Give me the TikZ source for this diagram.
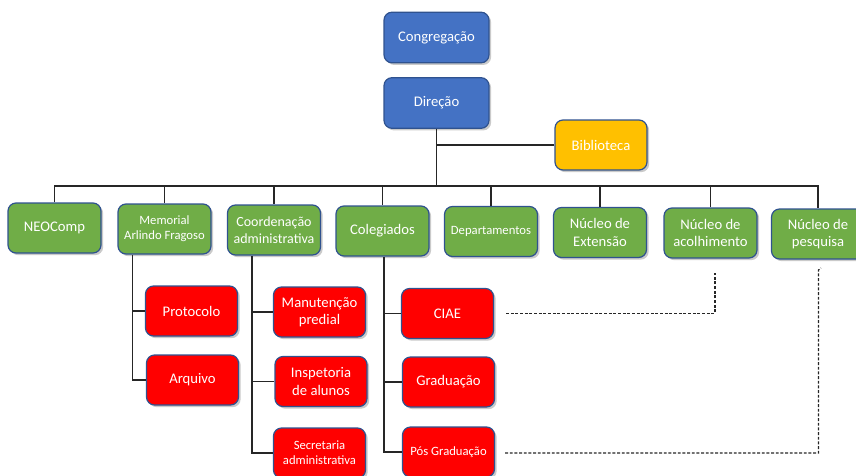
\documentclass[tikz,border=0pt]{standalone}
\usepackage{fontspec}
\setmainfont{Carlito}
\usetikzlibrary{shadows,calc}
\definecolor{bblue}{HTML}{4472C4}
\definecolor{bgreen}{HTML}{70AD47}
\definecolor{bred}{HTML}{FF0000}
\definecolor{byellow}{HTML}{FFC000}
\definecolor{bedge}{HTML}{2F528F}
\definecolor{lnk}{HTML}{262626}
\tikzset{
  box/.style={draw=bedge, line width=0.9pt, rounded corners=6pt, text=white,
    align=center, inner sep=1pt, font=\fontsize{11}{13}\selectfont,
    drop shadow={shadow xshift=1.6pt, shadow yshift=-1.6pt, opacity=0.35, fill=black!60}},
  bluebox/.style={box, fill=bblue, minimum width=78.75pt, minimum height=38pt},
  yellowbox/.style={box, fill=byellow, minimum width=69pt, minimum height=37.5pt},
  greenbox/.style={box, fill=bgreen, minimum width=69.75pt, minimum height=37.5pt},
  redbox/.style={box, fill=bred, minimum width=69pt, minimum height=37.5pt},
  small/.style={font=\fontsize{9.5}{11}\selectfont},
  mid/.style={font=\fontsize{10.5}{12.5}\selectfont},
  conn/.style={draw=lnk, line width=0.9pt},
  dconn/.style={draw=lnk, line width=0.9pt, dash pattern=on 2.2pt off 1.3pt},
}
\begin{document}
\begin{tikzpicture}[x=0.75pt,y=-0.75pt]
\useasboundingbox (0,0) rectangle (856,475);
% nodes
\node[bluebox] (cong) at (436.5,37.5) {Congregação};
\node[bluebox] (dir) at (436.5,103) {Direção};
\node[yellowbox] (bib) at (601,145) {Biblioteca};
\node[greenbox] (neo) at (54.5,228) {NEOComp};
\node[greenbox, small] (mem) at (164.5,229) {Memorial\\Arlindo Fragoso};
\node[greenbox, mid] (coord) at (274,230) {Coordenação\\administrativa};
\node[greenbox] (coleg) at (382.5,231) {Colegiados};
\node[greenbox, small] (dep) at (491,231.5) {Departamentos};
\node[greenbox] (ext) at (600,232.5) {Núcleo de\\Extensão};
\node[greenbox] (acol) at (710.5,233) {Núcleo de\\acolhimento};
\node[greenbox] (pesq) at (818,234) {Núcleo de\\pesquisa};
\node[redbox] (prot) at (191.5,311) {Protocolo};
\node[redbox] (arq) at (192.5,380) {Arquivo};
\node[redbox] (man) at (319.5,312) {Manutenção\\predial};
\node[redbox] (insp) at (321,381.5) {Inspetoria\\de alunos};
\node[redbox, small] (sec) at (319.5,453) {Secretaria\\administrativa};
\node[redbox] (ciae) at (447.5,313.5) {CIAE};
\node[redbox] (grad) at (448.5,382) {Graduação};
\node[redbox, small] (pos) at (448.5,452) {Pós Graduação};
% bus
\coordinate (bus) at (436.5,186);
\draw[conn] (dir.south) -- (dir.south |- bus);
\draw[conn] (bib.west) -- (bib.west -| dir.south);
\draw[conn] (neo.north) -- (neo.north |- bus) -- (pesq.north |- bus) -- (pesq.north);
\foreach \n in {mem,coord,coleg,dep,ext,acol}
  \draw[conn] (\n.north) -- (\n.north |- bus);
% sub branches
\coordinate (mv) at ($(mem.south west)+(15,0)$);
\draw[conn] (mv) |- (arq.west);
\draw[conn] (prot.west) -- (prot.west -| mv);
\coordinate (cv) at ($(coord.south west)+(25,0)$);
\draw[conn] (cv) |- (sec.west);
\draw[conn] (man.west) -- (man.west -| cv);
\draw[conn] (insp.west) -- (insp.west -| cv);
\coordinate (gv) at ($(coleg.south)+(1.5,0)$);
\draw[conn] (gv) |- (pos.west);
\draw[conn] (ciae.west) -- (ciae.west -| gv);
\draw[conn] (grad.west) -- (grad.west -| gv);
% dashed links
\coordinate (d1) at (715,273);
\draw[dconn] ($(ciae.east)+(12,0)$) -| (d1);
\coordinate (d2) at (818.5,270);
\coordinate (d2e) at (821,268);
\draw[dconn] ($(pos.east)+(10,1)$) -| (d2) -- (d2e);
\end{tikzpicture}
\end{document}
